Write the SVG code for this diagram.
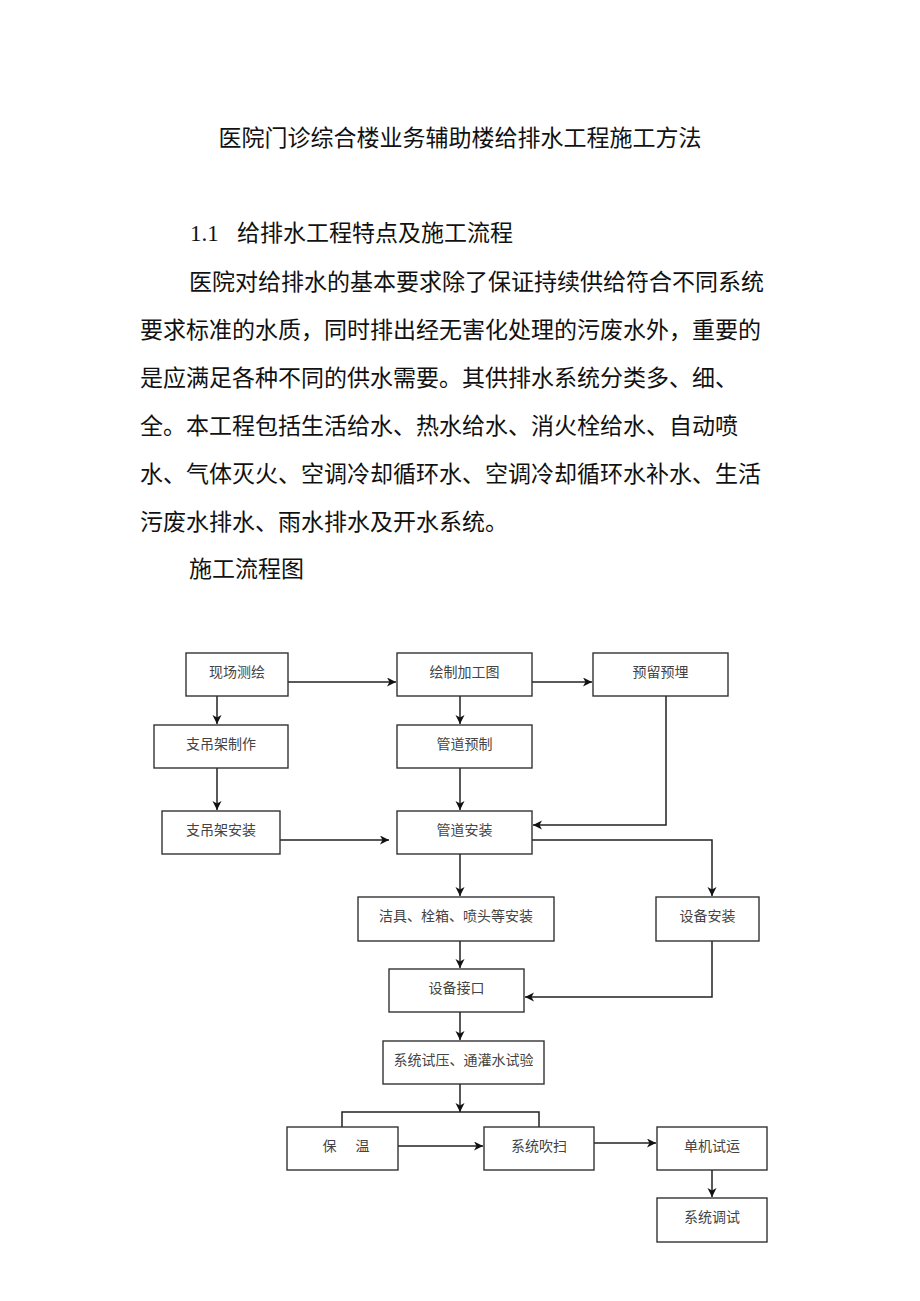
<svg xmlns="http://www.w3.org/2000/svg" width="920" height="1301" viewBox="0 0 920 1301">
<style>
.body{font-family:"Liberation Serif","Noto Sans CJK SC",serif;fill:#111;font-size:23px;}
.box{fill:#fff;stroke:#333;stroke-width:1.4;}
.lbl{font-family:"Liberation Serif","Noto Sans CJK SC",serif;font-size:14px;fill:#444;text-anchor:middle;}
.ln{fill:none;stroke:#222;stroke-width:1.5;}
</style>
<defs>
<marker id="ah" markerUnits="userSpaceOnUse" markerWidth="10" markerHeight="10" refX="9" refY="4.5" orient="auto">
<path d="M0,0 L9,4.5 L0,9 L2.5,4.5 z" fill="#111"/>
</marker>
</defs>
<rect width="920" height="1301" fill="#fff"/>
<g id="text">
<text class="body" x="460" y="146" text-anchor="middle">医院门诊综合楼业务辅助楼给排水工程施工方法</text>
<text class="body" x="190" y="241">1.1<tspan x="237">给排水工程特点及施工流程</tspan></text>
<text class="body" x="189" y="290">医院对给排水的基本要求除了保证持续供给符合不同系统</text>
<text class="body" x="140" y="338">要求标准的水质，同时排出经无害化处理的污废水外，重要的</text>
<text class="body" x="140" y="386">是应满足各种不同的供水需要。其供排水系统分类多、细、</text>
<text class="body" x="140" y="434">全。本工程包括生活给水、热水给水、消火栓给水、自动喷</text>
<text class="body" x="140" y="481.5">水、气体灭火、空调冷却循环水、空调冷却循环水补水、生活</text>
<text class="body" x="140" y="529.5">污废水排水、雨水排水及开水系统。</text>
<text class="body" x="189" y="577">施工流程图</text>
</g>
<g id="connectors">
<path class="ln" d="M288,682 H396" marker-end="url(#ah)"/>
<path class="ln" d="M532,682 H592" marker-end="url(#ah)"/>
<path class="ln" d="M217,696 V724" marker-end="url(#ah)"/>
<path class="ln" d="M217,768 V810" marker-end="url(#ah)"/>
<path class="ln" d="M460,696 V724" marker-end="url(#ah)"/>
<path class="ln" d="M460,768 V810" marker-end="url(#ah)"/>
<path class="ln" d="M280,840 H389" marker-end="url(#ah)"/>
<path class="ln" d="M666,696 V825 H533" marker-end="url(#ah)"/>
<path class="ln" d="M532,840 H712 V896" marker-end="url(#ah)"/>
<path class="ln" d="M460,854 V896" marker-end="url(#ah)"/>
<path class="ln" d="M460,941 V968" marker-end="url(#ah)"/>
<path class="ln" d="M712,941 V997 H525" marker-end="url(#ah)"/>
<path class="ln" d="M460,1012 V1040" marker-end="url(#ah)"/>
<path class="ln" d="M460,1084 V1112" marker-end="url(#ah)"/>
<path class="ln" d="M342,1127 V1112 H539 V1127"/>
<path class="ln" d="M398,1146 H483" marker-end="url(#ah)"/>
<path class="ln" d="M594,1143 H656" marker-end="url(#ah)"/>
<path class="ln" d="M712,1170 V1197" marker-end="url(#ah)"/>
</g>
<g id="n1"><rect class="box" x="186" y="653" width="102" height="43"/><text class="lbl" x="237" y="677">现场测绘</text></g>
<g id="n2"><rect class="box" x="397" y="653" width="135" height="43"/><text class="lbl" x="464.5" y="677">绘制加工图</text></g>
<g id="n3"><rect class="box" x="593" y="653" width="135" height="43"/><text class="lbl" x="660.5" y="677">预留预埋</text></g>
<g id="n4"><rect class="box" x="154" y="725" width="134" height="43"/><text class="lbl" x="221" y="749">支吊架制作</text></g>
<g id="n5"><rect class="box" x="397" y="725" width="135" height="43"/><text class="lbl" x="464.5" y="749">管道预制</text></g>
<g id="n6"><rect class="box" x="162" y="811" width="118" height="43"/><text class="lbl" x="221" y="835">支吊架安装</text></g>
<g id="n7"><rect class="box" x="397" y="811" width="135" height="43"/><text class="lbl" x="464.5" y="835">管道安装</text></g>
<g id="n8"><rect class="box" x="358" y="897" width="196" height="44"/><text class="lbl" x="456" y="921">洁具、栓箱、喷头等安装</text></g>
<g id="n9"><rect class="box" x="656" y="897" width="103" height="44"/><text class="lbl" x="707.5" y="921">设备安装</text></g>
<g id="n10"><rect class="box" x="389" y="969" width="135" height="43"/><text class="lbl" x="456.5" y="993">设备接口</text></g>
<g id="n11"><rect class="box" x="383" y="1041" width="161" height="43"/><text class="lbl" x="463.5" y="1065">系统试压、通灌水试验</text></g>
<g id="n12"><rect class="box" x="287" y="1127" width="111" height="43"/><text class="lbl" x="346" y="1151">保<tspan dx="19">温</tspan></text></g>
<g id="n13"><rect class="box" x="484" y="1127" width="110" height="43"/><text class="lbl" x="539" y="1151">系统吹扫</text></g>
<g id="n14"><rect class="box" x="657" y="1127" width="110" height="43"/><text class="lbl" x="712" y="1151">单机试运</text></g>
<g id="n15"><rect class="box" x="657" y="1198" width="110" height="44"/><text class="lbl" x="712" y="1222">系统调试</text></g>
</svg>
